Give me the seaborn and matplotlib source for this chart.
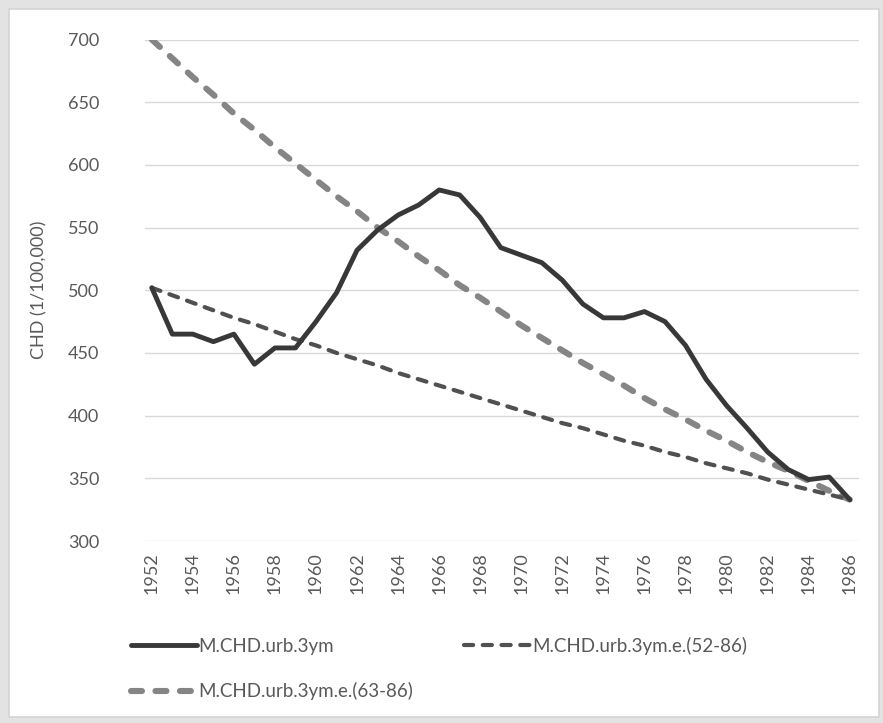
import matplotlib
matplotlib.use("Agg")
import matplotlib.pyplot as plt
import matplotlib.patches as mpatches
import seaborn as sns
import pandas as pd

years = list(range(1952, 1987))

# M.CHD.urb.3ym
chd_3ym = [502, 465, 465, 459, 465, 441, 454, 454, 475, 498,
           532, 548, 560, 568, 580, 576, 558, 534, 528, 522,
           508, 489, 478, 478, 483, 475, 456, 429, 408, 390,
           371, 357, 349, 351, 333]

# fitted curve 52-86
chd_e_52_86 = [502, 496, 490, 484, 478, 473, 467, 461, 456, 450,
               445, 440, 434, 429, 424, 419, 414, 409, 404, 399,
               394, 390, 385, 380, 376, 371, 367, 362, 358, 354,
               349, 345, 341, 337, 333]

# fitted curve 63-86
chd_e_63_86 = [700, 685, 670, 656, 641, 628, 614, 601, 588, 575,
               563, 550, 539, 527, 516, 504, 494, 483, 472, 462,
               452, 442, 433, 424, 414, 405, 397, 388, 380, 371,
               363, 356, 348, 340, 333]

labels = ["M.CHD.urb.3ym", "M.CHD.urb.3ym.e.(52-86)", "M.CHD.urb.3ym.e.(63-86)"]
year_ticks = list(range(1952, 1987, 2))
y_ticks = list(range(300, 701, 50))

df = pd.DataFrame({"year": years, labels[0]: chd_3ym,
                   labels[1]: chd_e_52_86, labels[2]: chd_e_63_86})

sns.set_style("white")
plt.rcParams["font.family"] = ["Lato", "DejaVu Sans"]
txt = "#595959"

W, H = 883, 723
fig = plt.figure(figsize=(W / 100, H / 100), dpi=100)
fig.patch.set_facecolor("#e3e3e3")
panel = mpatches.Rectangle((9 / W, 1 - 717 / H), 870 / W, 708 / H,
                           transform=fig.transFigure, facecolor="white",
                           edgecolor="#d4d4d4", lw=1.2, zorder=-10)
fig.patches.append(panel)

ax = fig.add_axes([145 / W, 1 - 541 / H, 714 / W, 501.5 / H])
ax.set_facecolor("none")

sns.lineplot(data=df, x="year", y=labels[2], ax=ax, color="#858585", lw=4.4,
             linestyle=(0, (1.8, 2.2)), dash_capstyle="round", label=labels[2])
sns.lineplot(data=df, x="year", y=labels[1], ax=ax, color="#505050", lw=3.0,
             linestyle=(0, (2.2, 2.3)), dash_capstyle="round", label=labels[1])
sns.lineplot(data=df, x="year", y=labels[0], ax=ax, color="#383838", lw=3.5,
             solid_joinstyle="round", label=labels[0])

ax.set_xlim(1952 - 0.33, 1986 + 0.45)
ax.set_ylim(300, 700)
ax.set_xticks(year_ticks)
ax.set_xticklabels([str(y) for y in year_ticks], rotation=90)
ax.set_yticks(y_ticks)
ax.tick_params(axis="both", length=0, labelsize=13, colors=txt)
ax.tick_params(axis="y", pad=33)
ax.tick_params(axis="x", pad=8)
ax.grid(axis="y", color="#d9d9d9", lw=1)
for s in ax.spines.values():
    s.set_visible(False)
ax.set_xlabel("")
ax.set_ylabel("CHD (1/100,000)", fontsize=13, color=txt, labelpad=15)

ax.get_legend().remove()
lines = {l.get_label(): l for l in ax.get_lines()}
hs = [lines[labels[0]], lines[labels[2]], lines[labels[1]]]
fig.legend(hs, [labels[0], labels[2], labels[1]], ncol=2, frameon=False,
           loc="upper left", bbox_to_anchor=(114 / W, 1 - 620 / H),
           fontsize=13.5, labelcolor=txt, handlelength=3.5, handletextpad=0.12,
           columnspacing=2.7, labelspacing=1.45)

fig.savefig("out.png", dpi=100)
